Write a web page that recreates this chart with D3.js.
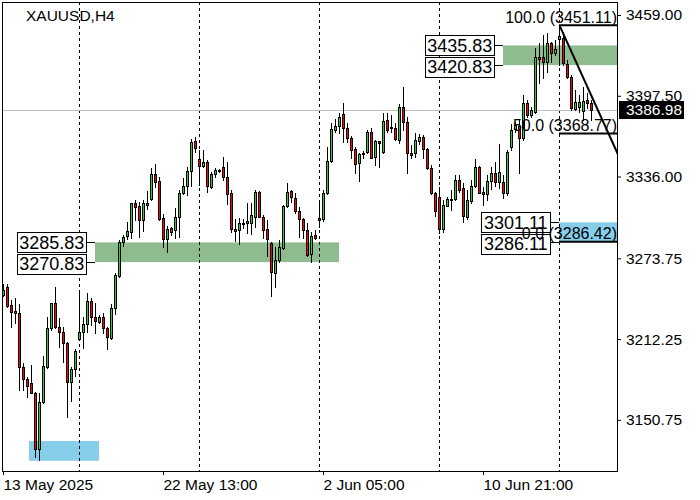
<!DOCTYPE html>
<html><head><meta charset="utf-8">
<script src="https://cdn.jsdelivr.net/npm/d3@7"></script>
<style>html,body{margin:0;padding:0;background:#fff;} svg{display:block;font-family:"Liberation Sans",Arial,sans-serif;}</style>
</head><body><div id="chart"></div>
<script>
const symbolTitle = "XAUUSD,H4";
const opens = [3245.8,3251.7,3238.2,3233.6,3231.9,3190.8,3181.6,3178.8,3171.4,3128.3,3164.6,3191.2,3220.5,3239.5,3221.7,3217.4,3209.0,3179.8,3189.2,3212.1,3217.9,3223.5,3241.5,3229.3,3225.5,3228.8,3220.5,3212.9,3235.7,3260.5,3285.9,3291.0,3294.0,3315.6,3313.6,3302.9,3314.3,3318.7,3337.9,3332.6,3304.2,3288.2,3296.6,3295.3,3305.0,3323.3,3328.8,3340.2,3363.1,3349.1,3344.3,3347.3,3328.3,3337.7,3340.5,3343.0,3335.4,3323.7,3296.3,3295.3,3299.9,3300.9,3300.9,3305.4,3324.5,3305.4,3295.8,3285.6,3262.8,3272.5,3281.4,3313.6,3325.2,3319.4,3309.8,3303.5,3295.3,3276.8,3291.5,3304.7,3303.5,3323.3,3348.1,3371.4,3374.5,3383.6,3372.7,3365.1,3356.7,3346.1,3352.9,3354.9,3370.2,3350.7,3363.1,3354.9,3379.1,3373.2,3372.7,3363.8,3388.7,3377.8,3354.2,3353.7,3363.3,3365.9,3356.7,3342.3,3323.3,3320.2,3296.1,3313.8,3318.1,3318.7,3333.4,3327.5,3305.4,3317.6,3328.8,3343.0,3324.5,3322.7,3332.6,3338.9,3331.9,3332.1,3323.7,3358.7,3372.0,3374.5,3365.1,3391.8,3382.9,3385.4,3426.8,3426.8,3423.4,3437.5,3429.8,3440.5,3441.3,3421.7,3412.0,3387.2,3389.2,3386.1,3394.3,3391.8];
const highs = [3254.2,3254.2,3242.0,3243.5,3239.0,3194.0,3183.6,3192.5,3172.2,3171.2,3199.4,3229.1,3240.0,3252.1,3228.3,3221.7,3210.3,3191.2,3204.7,3249.6,3229.3,3247.1,3243.5,3239.7,3230.6,3232.1,3221.7,3239.0,3262.6,3287.7,3291.5,3301.6,3315.9,3318.1,3316.9,3318.1,3325.0,3342.3,3345.6,3335.9,3307.3,3298.4,3297.8,3311.8,3325.8,3334.7,3343.5,3364.6,3365.9,3356.2,3356.2,3348.6,3339.7,3342.3,3342.0,3350.7,3347.3,3325.8,3303.9,3304.2,3303.5,3315.6,3315.6,3325.8,3325.0,3306.7,3302.9,3286.4,3282.6,3287.7,3314.3,3330.9,3325.8,3323.3,3312.6,3304.2,3300.9,3294.0,3295.3,3318.1,3325.8,3358.7,3376.5,3379.6,3384.2,3391.8,3377.0,3366.9,3358.3,3354.2,3355.5,3371.4,3372.7,3363.8,3363.3,3384.6,3384.2,3382.9,3377.0,3391.2,3404.0,3381.6,3360.0,3368.9,3368.4,3367.6,3357.5,3344.8,3324.5,3328.3,3318.1,3320.7,3325.8,3337.2,3337.2,3330.9,3325.8,3333.4,3349.1,3344.0,3328.3,3337.2,3343.0,3347.3,3360.8,3337.2,3356.2,3376.0,3377.8,3379.1,3398.1,3394.3,3389.2,3433.6,3437.5,3443.8,3445.1,3438.7,3440.0,3451.11,3446.3,3424.7,3413.3,3401.9,3398.1,3404.4,3399.4,3394.3];
const lows = [3245.1,3236.9,3221.7,3224.5,3173.5,3173.5,3168.2,3171.2,3122.7,3120.2,3163.6,3190.2,3219.2,3220.7,3206.5,3195.0,3153.2,3165.3,3184.1,3211.5,3205.7,3217.9,3223.0,3216.9,3224.3,3216.9,3204.5,3212.1,3231.1,3259.5,3283.4,3288.5,3289.0,3302.9,3290.2,3294.5,3311.1,3318.1,3328.3,3302.9,3282.6,3278.8,3291.5,3289.0,3290.2,3322.7,3322.0,3328.8,3354.9,3329.6,3343.5,3324.5,3327.1,3335.9,3339.7,3333.4,3315.1,3294.0,3287.2,3284.6,3296.6,3293.3,3292.0,3297.8,3305.0,3289.0,3275.7,3245.1,3252.1,3271.2,3280.6,3312.8,3316.9,3308.5,3290.2,3289.0,3275.5,3271.2,3288.2,3297.8,3302.4,3322.7,3347.3,3370.2,3369.4,3362.5,3362.5,3349.9,3338.9,3332.8,3349.9,3354.2,3349.9,3344.8,3343.0,3354.2,3370.2,3370.2,3363.8,3361.8,3371.4,3338.9,3349.9,3350.7,3360.8,3349.9,3341.8,3322.7,3306.0,3293.3,3294.0,3313.6,3310.5,3318.1,3324.5,3301.6,3303.5,3316.1,3328.3,3323.3,3314.3,3318.1,3326.3,3328.8,3327.3,3319.7,3322.0,3356.2,3369.9,3338.5,3363.8,3381.6,3381.6,3384.2,3407.0,3410.8,3415.8,3423.4,3428.5,3420.9,3420.9,3410.8,3386.7,3386.7,3385.4,3379.1,3388.0,3379.1];
const closes = [3249.6,3237.7,3233.1,3231.9,3190.8,3181.6,3176.5,3171.4,3128.3,3164.6,3191.8,3220.5,3239.5,3221.7,3217.4,3209.0,3179.8,3189.2,3203.2,3217.9,3223.5,3241.5,3229.3,3226.3,3229.3,3220.5,3213.6,3235.7,3261.0,3285.9,3289.7,3294.5,3315.6,3313.0,3302.9,3315.6,3316.1,3337.9,3332.1,3303.7,3288.2,3296.1,3294.0,3305.0,3323.3,3328.8,3340.2,3362.1,3357.5,3344.3,3347.3,3328.8,3337.9,3341.0,3341.0,3335.4,3322.7,3295.8,3294.5,3300.4,3300.4,3302.2,3306.7,3324.5,3305.4,3295.3,3288.2,3263.1,3272.5,3282.1,3313.6,3324.0,3320.2,3309.8,3303.5,3295.3,3276.0,3291.0,3289.0,3302.9,3323.3,3348.1,3372.0,3374.5,3381.1,3372.7,3365.1,3356.2,3345.6,3352.9,3353.7,3370.2,3350.4,3363.1,3361.3,3378.5,3371.4,3373.7,3364.6,3388.7,3377.8,3353.7,3352.4,3363.8,3365.9,3356.7,3342.3,3323.3,3310.0,3296.1,3314.3,3318.7,3318.7,3333.4,3325.8,3306.0,3318.1,3329.0,3343.0,3323.7,3322.7,3332.6,3338.9,3331.9,3339.7,3323.7,3354.9,3371.4,3375.3,3365.1,3391.8,3382.9,3386.7,3426.8,3425.5,3423.4,3437.5,3430.3,3432.9,3443.0,3422.2,3412.0,3388.0,3393.0,3393.0,3393.5,3391.8,3386.98];

const xTickIndex = [0, 40, 80, 120];
const xTickLabels = ["13 May 2025", "22 May 13:00", "2 Jun 05:00", "10 Jun 21:00"];
const gridIndex = [19, 49, 79, 109, 139];
const yTicks = [3459.00, 3397.50, 3336.00, 3273.75, 3212.25, 3150.75];
const lastPrice = 3386.98;

const zoneHigh = [3285.83, 3435.83, 3301.11, 3134.61];
const zoneLow = [3270.83, 3420.83, 3286.11, 3119.61];
const zoneStart = [23, 125, 139, 6.5];
const zoneEnd = [84, null, null, 24];
const zoneColor = ["#8fbc8f", "#8fbc8f", "#87ceeb", "#87ceeb"];
const zoneLabeled = [true, true, true, false];

const fibLevels = [100, 50, 0];
const fibFromIndex = 139, fibFromPrice = 3451.11;
const fibToIndex = 163.5, fibToPrice = 3286.42;

const W = 700, H = 500;
const PL = 2, PR = 617, PT = 2, PB = 471;
const BULL = "#32cd32", BEAR = "#ff0000";

const svg = d3.select("#chart").append("svg").attr("width", W).attr("height", H);
svg.append("rect").attr("width", W).attr("height", H).attr("fill", "#fff");

const x = d3.scaleLinear().domain([0, 1]).range([3, 7]);
const y = d3.scaleLinear().domain([3111.8, 3468.9]).range([PB, PT]);

svg.append("clipPath").attr("id", "plot").append("rect")
  .attr("x", PL).attr("y", PT).attr("width", PR - PL).attr("height", PB - PT);
const plot = svg.append("g").attr("clip-path", "url(#plot)");

// zones
const zoneIdx = d3.range(zoneHigh.length);
plot.selectAll("rect.zone").data(zoneIdx).enter().append("rect")
  .attr("class", "zone")
  .attr("x", i => x(zoneStart[i]))
  .attr("width", i => (zoneEnd[i] == null ? PR + 5 : x(zoneEnd[i])) - x(zoneStart[i]))
  .attr("y", i => y(zoneHigh[i]))
  .attr("height", i => y(zoneLow[i]) - y(zoneHigh[i]))
  .attr("fill", i => zoneColor[i]);

// grid
plot.selectAll("line.grid").data(gridIndex).enter().append("line")
  .attr("x1", d => Math.round(x(d)) + 0.5).attr("x2", d => Math.round(x(d)) + 0.5)
  .attr("y1", PT).attr("y2", PB)
  .attr("stroke", "#000").attr("stroke-width", 1).attr("stroke-dasharray", "3,3");

// bid line
plot.append("line").attr("x1", PL).attr("x2", PR)
  .attr("y1", Math.round(y(lastPrice)) + 0.5).attr("y2", Math.round(y(lastPrice)) + 0.5)
  .attr("stroke", "#c0c0c0").attr("stroke-width", 1);

// candles
const idx = d3.range(opens.length);
const cg = plot.selectAll("g.c").data(idx).enter().append("g");
cg.append("line")
  .attr("x1", i => Math.round(x(i)) + 0.5).attr("x2", i => Math.round(x(i)) + 0.5)
  .attr("y1", i => Math.round(y(highs[i]))).attr("y2", i => Math.round(y(lows[i])) + 1)
  .attr("stroke", "#000").attr("stroke-width", 1);
cg.each(function(i) {
  const g = d3.select(this);
  const cx = Math.round(x(i)) + 0.5;
  const t = Math.round(y(Math.max(opens[i], closes[i])));
  const b = Math.round(y(Math.min(opens[i], closes[i])));
  if (b - t < 1) {
    g.append("line").attr("x1", cx - 1.5).attr("x2", cx + 1.5)
      .attr("y1", t + 0.5).attr("y2", t + 0.5).attr("stroke", "#000");
  } else {
    g.append("rect").attr("x", cx - 1).attr("width", 2)
      .attr("y", t + 0.5).attr("height", b - t)
      .attr("fill", closes[i] >= opens[i] ? BULL : BEAR)
      .attr("stroke", "#000").attr("stroke-width", 1);
  }
});

// fibonacci
const fibPrice = l => fibToPrice + (fibFromPrice - fibToPrice) * l / 100;
plot.append("line")
  .attr("x1", x(fibFromIndex) + 0.5).attr("y1", y(fibFromPrice))
  .attr("x2", x(fibToIndex) + 0.5).attr("y2", y(fibToPrice))
  .attr("stroke", "#000").attr("stroke-width", 2);
plot.selectAll("line.fib").data(fibLevels).enter().append("line")
  .attr("x1", x(fibFromIndex)).attr("x2", PR + 2)
  .attr("y1", d => y(fibPrice(d))).attr("y2", d => y(fibPrice(d)))
  .attr("stroke", "#000").attr("stroke-width", 2);

// zone labels
const labG = svg.append("g");
zoneIdx.filter(i => zoneLabeled[i]).forEach(i => {
  const left = x(zoneStart[i]);
  const bx1 = left - 9.5, bx0 = bx1 - 68.5;
  const yt = y(zoneHigh[i]), yb = y(zoneLow[i]);
  const boxes = [{p: zoneHigh[i], top: yt - 10, bot: yt + 9.5}, {p: zoneLow[i], top: yb - 8.5, bot: yb + 11}];
  [yt, yb].forEach(yy => {
    labG.append("line").attr("x1", bx1).attr("x2", left)
      .attr("y1", Math.round(yy) + 0.5).attr("y2", Math.round(yy) + 0.5)
      .attr("stroke", "#000");
  });
  boxes.forEach(bx => {
    labG.append("rect").attr("x", Math.round(bx0) + 0.5).attr("y", Math.round(bx.top) + 0.5)
      .attr("width", Math.round(bx1 - bx0)).attr("height", Math.round(bx.bot - bx.top))
      .attr("fill", "#fff").attr("stroke", "#000");
    labG.append("text").attr("x", (bx0 + bx1) / 2 + 0.5).attr("y", bx.bot - 3.3)
      .attr("text-anchor", "middle").attr("font-size", 18).attr("fill", "#000")
      .text(bx.p.toFixed(2));
  });
});

// fib texts
svg.selectAll("text.fibt").data(fibLevels).enter().append("text")
  .attr("x", PR).attr("y", d => y(fibPrice(d)) - 2.5)
  .attr("text-anchor", "end").attr("font-size", 16).attr("fill", "#000")
  .text(d => `${d.toFixed(1)} (${fibPrice(d).toFixed(2)})`);

// frame
svg.append("rect").attr("x", PL + 0.5).attr("y", PT + 0.5)
  .attr("width", PR - PL).attr("height", PB - PT)
  .attr("fill", "none").attr("stroke", "#000");

// axes
const ya = svg.append("g").attr("transform", `translate(${PR},0)`)
  .call(d3.axisRight(y).tickValues(yTicks).tickFormat(d3.format(".2f")).tickSize(4).tickPadding(5));
ya.select(".domain").remove();
ya.selectAll("text").attr("font-size", 15.5).attr("fill", "#000").attr("font-family", "Liberation Sans, Arial, sans-serif");
ya.selectAll("line").attr("stroke", "#000");

const xa = svg.append("g").attr("transform", `translate(0,${PB})`)
  .call(d3.axisBottom(x).tickValues(xTickIndex).tickFormat((d, i) => xTickLabels[i]).tickSize(4).tickPadding(4));
xa.select(".domain").remove();
xa.selectAll("text").attr("font-size", 15.5).attr("fill", "#000").attr("text-anchor", "start")
  .attr("font-family", "Liberation Sans, Arial, sans-serif");
xa.selectAll("line").attr("stroke", "#000");

// title
svg.append("text").attr("x", 26).attr("y", 21).attr("font-size", 15.5).attr("fill", "#000").text(symbolTitle);

// current price label
const ly = y(lastPrice);
svg.append("rect").attr("x", 619).attr("y", Math.round(ly) - 9).attr("width", 65).attr("height", 18).attr("fill", "#000");
svg.append("text").attr("x", 626).attr("y", ly + 5.3).attr("font-size", 15.5).attr("fill", "#fff").text(lastPrice.toFixed(2));
</script>
</body></html>
